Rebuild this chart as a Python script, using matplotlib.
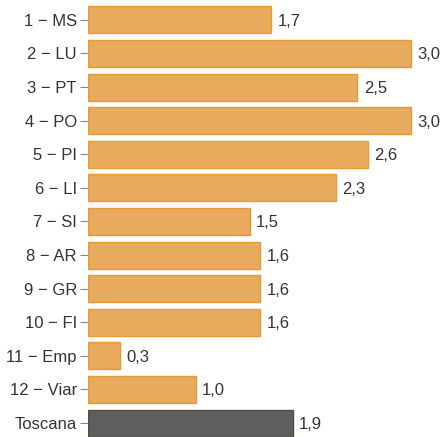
import matplotlib

matplotlib.use("Agg")

import matplotlib.pyplot as plt

CATEGORIES = [
    "1 − MS", "2 − LU", "3 − PT", "4 − PO", "5 − PI", "6 − LI", "7 − SI",
    "8 − AR", "9 − GR", "10 − FI", "11 − Emp", "12 − Viar", "Toscana",
]
VALUES = [1.7, 3.0, 2.5, 3.0, 2.6, 2.3, 1.5, 1.6, 1.6, 1.6, 0.3, 1.0, 1.9]

BAR_COLOUR = "#e8aa5c"
BAR_EDGE = "#e59a32"
TOTAL_COLOUR = "#5f5e5f"
TOTAL_EDGE = "#5a4a38"
TEXT_COLOUR = "#333333"

plt.rcParams["font.family"] = ["Liberation Sans", "DejaVu Sans"]

fig = plt.figure(figsize=(4.44, 4.37), dpi=100)
ax = fig.add_axes([88 / 444, 0.5 / 437, 356 / 444, 433.4 / 437])

positions = list(range(len(CATEGORIES)))
faces = [TOTAL_COLOUR if c == "Toscana" else BAR_COLOUR for c in CATEGORIES]
edges = [TOTAL_EDGE if c == "Toscana" else BAR_EDGE for c in CATEGORIES]
ax.barh(positions, VALUES, height=0.8, color=faces, edgecolor=edges, linewidth=1.0)

for pos, val in zip(positions, VALUES):
    ax.text(val + 0.06, pos, f"{val:.1f}".replace(".", ","), va="center_baseline",
            ha="left", fontsize=12, color=TEXT_COLOUR)

ax.set_xlim(0, 356 / 107.7)
ax.set_ylim(12.4, -0.5)
ax.set_yticks(positions)
ax.set_yticklabels(CATEGORIES, fontsize=12, color=TEXT_COLOUR, va="center_baseline")
ax.set_xticks([])
for side in ("top", "right", "bottom", "left"):
    ax.spines[side].set_visible(False)
ax.tick_params(axis="y", length=6, color="#888888", pad=2)

fig.savefig("out.png", dpi=100)
